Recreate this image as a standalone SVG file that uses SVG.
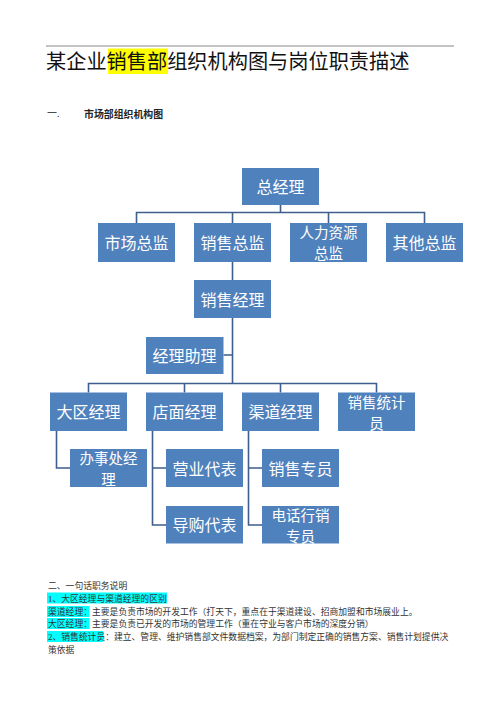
<svg xmlns="http://www.w3.org/2000/svg" width="500" height="707" viewBox="0 0 500 707">
<style>
.box{fill:#4F81BD;}
.bt{fill:#fff;font-family:"Noto Sans CJK SC",sans-serif;font-size:16px;text-anchor:middle;dominant-baseline:central;}
.bt2{font-size:14.5px;}
.cn{fill:none;stroke:#3E5E8E;stroke-width:1.6;}
.body{font-family:"Liberation Serif","Noto Sans CJK SC",serif;font-size:8.8px;fill:#333;}
.hl{fill:#00FFFF;}
</style>
<rect width="500" height="707" fill="#fff"/>
<line x1="46" y1="46" x2="454" y2="46" stroke="#888" stroke-width="1"/>
<rect x="108" y="48.5" width="60" height="25.5" fill="#FFFF00"/>
<text x="46" y="68.5" font-family="Noto Sans CJK SC,sans-serif" font-size="20.2" fill="#111">某企业销售部组织机构图与岗位职责描述</text>
<text x="47" y="117" font-family="Liberation Serif,Noto Sans CJK SC,serif" font-size="10" fill="#222">一.</text>
<text x="84" y="117.5" font-family="Noto Sans CJK SC,sans-serif" font-size="9.9" font-weight="bold" fill="#222">市场部组织机构图</text>

<g id="connectors">
<path class="cn" d="M280.5 205 V212.5 M136.5 223 V212.5 H424.5 V223 M232.5 212.5 V223 M328.5 212.5 V223"/>
<path class="cn" d="M232.5 262 V280 M232.5 318 V383.5 M223.5 355 H232.5"/>
<path class="cn" d="M88.5 392.5 V383.5 H376.5 V392.5 M184.5 383.5 V392.5 M280.5 383.5 V392.5"/>
<path class="cn" d="M56.5 431 V468 H70"/>
<path class="cn" d="M152.5 431 V525 H166 M152.5 468 H166"/>
<path class="cn" d="M248.5 431 V525 H262 M248.5 468 H262"/>
</g>

<g id="n1"><rect class="box" x="242" y="168" width="77" height="37"/><text class="bt" x="280.5" y="186">总经理</text></g>
<g id="n2"><rect class="box" x="98" y="223" width="77" height="39"/><text class="bt" x="136.5" y="242">市场总监</text></g>
<g id="n3"><rect class="box" x="194" y="223" width="77" height="39"/><text class="bt" x="232.5" y="242">销售总监</text></g>
<g id="n4"><rect class="box" x="290" y="223" width="77" height="39"/><text class="bt bt2"><tspan x="328.5" y="231">人力资源</tspan><tspan x="328.5" y="252">总监</tspan></text></g>
<g id="n5"><rect class="box" x="386" y="223" width="77" height="39"/><text class="bt" x="424.5" y="242">其他总监</text></g>
<g id="n6"><rect class="box" x="194" y="280" width="77" height="38"/><text class="bt" x="232.5" y="298.5">销售经理</text></g>
<g id="n7"><rect class="box" x="146" y="337" width="77.5" height="37"/><text class="bt" x="184.5" y="355">经理助理</text></g>
<g id="n8"><rect class="box" x="50" y="392.5" width="77" height="38.5"/><text class="bt" x="88.5" y="411">大区经理</text></g>
<g id="n9"><rect class="box" x="146" y="392.5" width="77" height="38.5"/><text class="bt" x="184.5" y="411">店面经理</text></g>
<g id="n10"><rect class="box" x="242" y="392.5" width="77" height="38.5"/><text class="bt" x="280.5" y="411">渠道经理</text></g>
<g id="n11"><rect class="box" x="338" y="392.5" width="77" height="38.5"/><text class="bt bt2"><tspan x="376.5" y="400.6">销售统计</tspan><tspan x="376.5" y="421.6">员</tspan></text></g>
<g id="n12"><rect class="box" x="70" y="449" width="77" height="38"/><text class="bt bt2"><tspan x="108.5" y="457">办事处经</tspan><tspan x="108.5" y="478">理</tspan></text></g>
<g id="n13"><rect class="box" x="166" y="449" width="77" height="38"/><text class="bt" x="204.5" y="467.5">营业代表</text></g>
<g id="n14"><rect class="box" x="262" y="449" width="77" height="38"/><text class="bt" x="300.5" y="467.5">销售专员</text></g>
<g id="n15"><rect class="box" x="166" y="506" width="77" height="37.5"/><text class="bt" x="204.5" y="524">导购代表</text></g>
<g id="n16"><rect class="box" x="262" y="506" width="77" height="37.5"/><text class="bt bt2"><tspan x="300.5" y="514">电话行销</tspan><tspan x="300.5" y="535">专员</tspan></text></g>

<rect class="hl" x="47" y="592.5" width="120" height="11"/>
<rect class="hl" x="47" y="606" width="42.5" height="11"/>
<rect class="hl" x="47" y="618" width="42.5" height="11"/>
<rect class="hl" x="47" y="631" width="56" height="11"/>
<text class="body" x="48" y="588.5">二、一句话职务说明</text>
<text class="body" x="48" y="601.5">1、大区经理与渠道经理的区别</text>
<text class="body" x="48" y="614.5">渠道经理：主要是负责市场的开发工作（打天下，重点在于渠道建设、招商加盟和市场展业上。</text>
<text class="body" x="48" y="626.5">大区经理：主要是负责已开发的市场的管理工作（重在守业与客户市场的深度分销）</text>
<text class="body" x="48" y="639.5">2、销售统计员：建立、管理、维护销售部文件数据档案，为部门制定正确的销售方案、销售计划提供决</text>
<text class="body" x="48" y="653">策依据</text>
</svg>
